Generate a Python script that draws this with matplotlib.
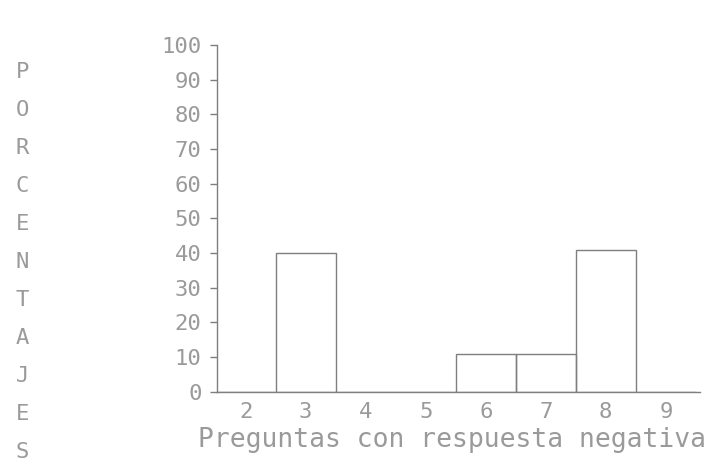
import numpy as np
import matplotlib.pyplot as plt

# Datos
preguntas = [2, 3, 4, 5, 6, 7, 8, 9]
porcentajes = [0, 40, 0, 0, 11, 11, 41, 0]
ticks_y = [0, 10, 20, 30, 40, 50, 60, 70, 80, 90, 100]
etiqueta_y = "PORCENTAJES"
etiqueta_x = "Preguntas con respuesta negativa"

gris = "#9a9a9a"
gris_linea = "#7f7f7f"
fuente = "DejaVu Sans Mono"

fig = plt.figure(figsize=(7.18, 4.67), dpi=100)
ax = fig.add_axes([0.302, 0.161, 0.673, 0.743])

# Barras contiguas (tipo histograma), sólo el contorno
ax.bar(preguntas, porcentajes, width=1.0, facecolor="none",
       edgecolor=gris_linea, linewidth=1.0)

ax.set_xlim(1.52, 9.57)
ax.set_ylim(0, 100)

for lado in ["top", "right"]:
    ax.spines[lado].set_visible(False)
for lado in ["left", "bottom"]:
    ax.spines[lado].set_color(gris_linea)
    ax.spines[lado].set_linewidth(1.0)

ax.set_yticks(ticks_y)
ax.set_yticklabels([str(v) for v in ticks_y], fontsize=16, family=fuente, color=gris)
ax.tick_params(axis="y", length=5, width=1, color=gris_linea, pad=6)

ax.set_xticks(preguntas)
ax.set_xticklabels([str(p) for p in preguntas], fontsize=16, family=fuente, color=gris)
ax.tick_params(axis="x", length=0, pad=7)

ax.set_xlabel(etiqueta_x, fontsize=19, family=fuente, color=gris)
ax.xaxis.set_label_coords(0.487, -0.10)

# Etiqueta vertical letra por letra
for i, letra in enumerate(etiqueta_y):
    fig.text(0.031, 1 - (72 + i * 38) / 467, letra, fontsize=16, family=fuente,
             color=gris, ha="center", va="center")

fig.savefig("out.png", dpi=100)
